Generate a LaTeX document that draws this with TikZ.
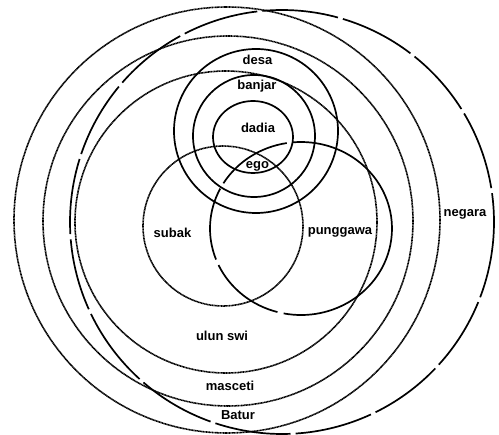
\documentclass[tikz,border=0pt]{standalone}
\usepackage{fontspec}
\setmainfont{Liberation Sans}
\begin{document}
\begin{tikzpicture}[x=1pt,y=-1pt,
  solidline/.style={line width=1.7pt},
  dotline/.style={line width=1.6pt, dash pattern=on 1.1pt off 0.45pt},
  lbl/.style={font=\fontsize{13}{15}\selectfont\bfseries, inner sep=0pt, text height=0.55em, text depth=0pt, anchor=center}]
\useasboundingbox (0,0) rectangle (499,435);
% outer dotted circles
\draw[dotline] (227,220) circle [radius=213pt];
\draw[dotline] (228,221) circle [radius=185pt];
\draw[dotline] (226,222) circle [radius=151pt];
% subak
\draw[dotline] (223,226) circle [radius=80pt];
% desa, banjar, dadia
\draw[solidline] (256,131) circle [radius=82pt];
\draw[solidline] (254,136) circle [radius=61pt];
\draw[solidline] (253,137) ellipse [x radius=40pt, y radius=36pt];
% punggawa with gaps
\coordinate (pc) at (301,228.5);
\foreach \a/\b in {99/148.5, 152.5/201, 205/255, 259/455}
  \draw[solidline] (pc) ++(\a:91pt and 86.5pt) arc [start angle=\a, end angle=\b, x radius=91pt, y radius=86.5pt];
% negara long dashes
\coordinate (nc) at (282,222);
\foreach \a/\b in {9.2/30.8, 32.2/51.3, 52.7/73.3, 74.7/95.3, 96.7/117.3, 118.7/138.9, 140.3/161.3, 162.7/183.3, 184.7/204.3, 205.7/227.8, 229.2/250.3, 251.7/272.3, 273.7/294.8, 296.2/316.3, 317.7/337.8, 339.2/367.8}
  \draw[solidline] (nc) ++(\a:212pt) arc [start angle=\a, end angle=\b, radius=212pt];
% labels
\node[lbl] (desa) at (257.5,62) {desa};
\node[lbl] (banjar) at (257,87) {banjar};
\node[lbl] (dadia) at (258,130) {dadia};
\node[lbl] (ego) at (257.5,166) {ego};
\node[lbl] (subak) at (172.5,235) {subak};
\node[lbl] (punggawa) at (340,232) {punggawa};
\node[lbl] (negara) at (465,214) {negara};
\node[lbl] (ulunswi) at (222,338) {ulun swi};
\node[lbl] (masceti) at (230,388) {masceti};
\node[lbl] (batur) at (238,417) {Batur};
\end{tikzpicture}
\end{document}
